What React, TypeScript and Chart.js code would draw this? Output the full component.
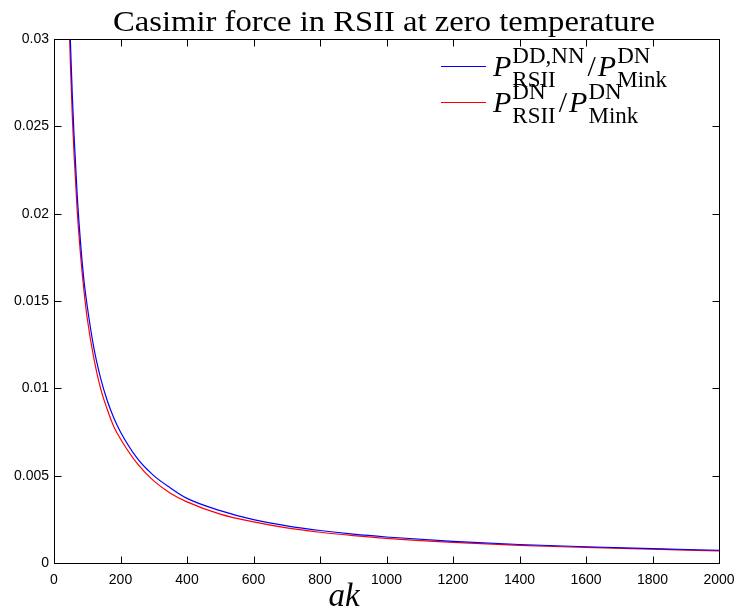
import React, { useEffect, useRef } from "react";
import { Chart, registerables } from "chart.js";

Chart.register(...registerables);

const titleText = "Casimir force in RSII at zero temperature";
const xAxisLabel = "ak";

const xTickValues = [0, 200, 400, 600, 800, 1000, 1200, 1400, 1600, 1800, 2000];
const yTickValues = [0, 0.005, 0.01, 0.015, 0.02, 0.025, 0.03];

// P_RSII^{DD,NN} / P_Mink^{DN}  (blue)
const blueX = [49, 50, 55, 60, 70, 80, 90, 100, 120, 140, 160, 180, 200, 250, 300, 350, 400, 500, 600, 700, 800, 900, 1000, 1200, 1400, 1600, 1800, 2000];
const blueY = [0.0300, 0.0295, 0.0268, 0.0246, 0.0210, 0.0183, 0.0162, 0.0147, 0.0123, 0.0106, 0.0093, 0.0083, 0.0075, 0.0060, 0.0050, 0.0043, 0.0037, 0.0030, 0.00248, 0.00213, 0.00186, 0.00165, 0.00149, 0.00124, 0.00106, 0.00093, 0.00082, 0.00073];

// P_RSII^{DN} / P_Mink^{DN}  (red)
const redX = [47, 50, 55, 60, 70, 80, 90, 100, 120, 140, 160, 180, 200, 250, 300, 350, 400, 500, 600, 700, 800, 900, 1000, 1200, 1400, 1600, 1800, 2000];
const redY = [0.0300, 0.0282, 0.0256, 0.0235, 0.0201, 0.0176, 0.0156, 0.0140, 0.0117, 0.0100, 0.0088, 0.0078, 0.0071, 0.0057, 0.0047, 0.0040, 0.0035, 0.0028, 0.00235, 0.00201, 0.00176, 0.00157, 0.00141, 0.00118, 0.00101, 0.00089, 0.00079, 0.00069];

type Seg = { main: string; italic?: boolean; sup?: string; sub?: string };
const legend1: Seg[] = [
  { main: "P", italic: true, sup: "DD,NN", sub: "RSII" },
  { main: "/" },
  { main: "P", italic: true, sup: "DN", sub: "Mink" },
];
const legend2: Seg[] = [
  { main: "P", italic: true, sup: "DN", sub: "RSII" },
  { main: "/" },
  { main: "P", italic: true, sup: "DN", sub: "Mink" },
];
const legendColors = ["#0000ff", "#ff0000"];

const SERIF = "'Liberation Serif', 'DejaVu Serif', serif";
const SANS = "'Liberation Sans', Arial, sans-serif";

function drawRich(ctx: CanvasRenderingContext2D, segs: Seg[], x0: number, base: number) {
  let x = x0;
  ctx.textBaseline = "alphabetic";
  ctx.textAlign = "left";
  for (const s of segs) {
    ctx.font = (s.italic ? "italic " : "") + "30px " + SERIF;
    ctx.fillText(s.main, x, base);
    x += ctx.measureText(s.main).width + (s.italic ? 1 : 2);
    if (s.sup || s.sub) {
      ctx.font = "23px " + SERIF;
      let w = 0;
      if (s.sup) {
        ctx.fillText(s.sup, x, base - 13);
        w = Math.max(w, ctx.measureText(s.sup).width);
      }
      if (s.sub) {
        ctx.fillText(s.sub, x, base + 11);
        w = Math.max(w, ctx.measureText(s.sub).width);
      }
      x += w + 3;
    }
  }
}

const decorPlugin = {
  id: "decor",
  afterDraw(chart: any) {
    const ctx: CanvasRenderingContext2D = chart.ctx;
    const { left, right, top, bottom } = chart.chartArea;
    const xs = chart.scales.x;
    const ys = chart.scales.y;
    ctx.save();
    ctx.strokeStyle = "#000";
    ctx.lineWidth = 1;
    const L = Math.round(left) + 0.5, R = Math.round(right) + 0.5;
    const T = Math.round(top) + 0.5, B = Math.round(bottom) + 0.5;
    ctx.strokeRect(L, T, R - L, B - T);
    const tl = 7;
    ctx.beginPath();
    for (const v of xTickValues) {
      const px = Math.round(xs.getPixelForValue(v)) + 0.5;
      ctx.moveTo(px, B); ctx.lineTo(px, B - tl);
      ctx.moveTo(px, T); ctx.lineTo(px, T + tl);
    }
    for (const v of yTickValues) {
      const py = Math.round(ys.getPixelForValue(v)) + 0.5;
      ctx.moveTo(L, py); ctx.lineTo(L + tl, py);
      ctx.moveTo(R, py); ctx.lineTo(R - tl, py);
    }
    ctx.stroke();

    // title (stretched horizontally to the reference's width)
    ctx.fillStyle = "#000";
    ctx.font = "29px " + SERIF;
    ctx.textAlign = "center";
    ctx.textBaseline = "alphabetic";
    const tw = ctx.measureText(titleText).width;
    const sx = 542 / tw;
    ctx.save();
    ctx.translate(384, 31);
    ctx.scale(sx, 1);
    ctx.fillText(titleText, 0, 0);
    ctx.restore();

    // x axis label
    ctx.font = "italic 33px " + SERIF;
    ctx.textAlign = "center";
    ctx.fillText(xAxisLabel, 344, 606);

    // legend
    const rows = [legend1, legend2];
    const lineY = [66, 102];
    rows.forEach((segs, i) => {
      ctx.strokeStyle = legendColors[i];
      ctx.beginPath();
      ctx.moveTo(441, lineY[i] + 0.5);
      ctx.lineTo(486, lineY[i] + 0.5);
      ctx.stroke();
      ctx.fillStyle = "#000";
      drawRich(ctx, segs, 493, lineY[i] + 10);
    });
    ctx.restore();
  },
};

export default function App() {
  const ref = useRef<HTMLCanvasElement | null>(null);
  useEffect(() => {
    if (!ref.current) return;
    const toPts = (xs: number[], ys: number[]) => xs.map((x, i) => ({ x, y: ys[i] }));
    const chart = new Chart(ref.current, {
      type: "scatter",
      data: {
        datasets: [
          {
            label: "P_RSII^{DD,NN}/P_Mink^{DN}",
            data: toPts(blueX, blueY),
            showLine: true,
            borderColor: "#0000ff",
            backgroundColor: "#0000ff",
            borderWidth: 1.2,
            pointRadius: 0,
            cubicInterpolationMode: "monotone",
          },
          {
            label: "P_RSII^{DN}/P_Mink^{DN}",
            data: toPts(redX, redY),
            showLine: true,
            borderColor: "#ff0000",
            backgroundColor: "#ff0000",
            borderWidth: 1.2,
            pointRadius: 0,
            cubicInterpolationMode: "monotone",
          },
        ],
      },
      options: {
        animation: false,
        responsive: false,
        maintainAspectRatio: false,
        devicePixelRatio: 1,
        layout: { padding: { left: 0, right: 20, top: 39, bottom: 0 } },
        plugins: {
          legend: { display: false },
          title: { display: false },
          tooltip: { enabled: false },
        },
        scales: {
          x: {
            type: "linear",
            min: 0,
            max: 2000,
            afterBuildTicks: (s: any) => { s.ticks = xTickValues.map((v) => ({ value: v })); },
            afterFit: (s: any) => { s.height = 48; s.paddingLeft = 0; s.paddingRight = 0; },
            grid: { display: false, drawTicks: false },
            border: { display: false },
            ticks: {
              color: "#000",
              font: { family: SANS, size: 14 },
              padding: 9,
              maxRotation: 0,
              autoSkip: false,
              callback: (v: any) => String(v),
            },
          },
          y: {
            type: "linear",
            min: 0,
            max: 0.03,
            afterBuildTicks: (s: any) => { s.ticks = yTickValues.map((v) => ({ value: v })); },
            afterFit: (s: any) => { s.width = 54; s.paddingTop = 0; s.paddingBottom = 0; },
            grid: { display: false, drawTicks: false },
            border: { display: false },
            ticks: {
              color: "#000",
              font: { family: SANS, size: 14 },
              padding: 5,
              autoSkip: false,
              callback: (v: any) => String(Number(Number(v).toFixed(4))),
            },
          },
        },
      },
      plugins: [decorPlugin],
    });
    return () => chart.destroy();
  }, []);
  return (
    <div style={{ position: "fixed", left: 0, top: 0, width: 739, height: 611, background: "#fff" }}>
      <canvas ref={ref} width={739} height={611} style={{ width: 739, height: 611, display: "block" }} />
    </div>
  );
}
